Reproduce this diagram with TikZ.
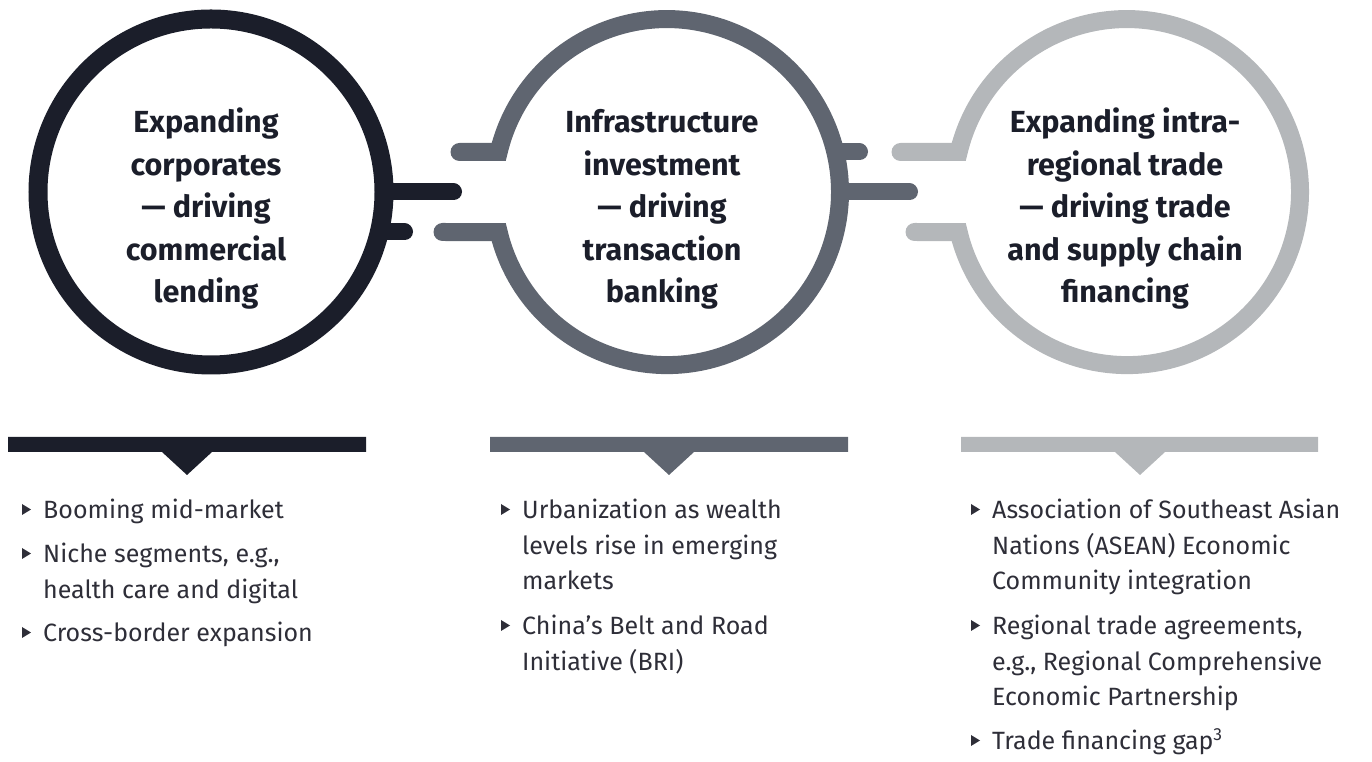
\documentclass[tikz,border=0pt]{standalone}
\usepackage{fontspec}
\setmainfont{Fira Sans}
\definecolor{cdark}{HTML}{1B1E2A}
\definecolor{cmid}{HTML}{5F6570}
\definecolor{clight}{HTML}{B4B7BA}
\definecolor{cink}{HTML}{1B1E2A}
\definecolor{cbody}{HTML}{2E2E38}
\tikzset{
  ringline/.style={line width=18pt, line join=miter, line cap=round},
  linkline/.style={line width=17pt, line cap=round},
  headtext/.style={font=\fontsize{30.5}{42.5}\selectfont\bfseries, text=cink, inner sep=0pt, anchor=base},
  itemtext/.style={font=\fontsize{25}{35.3}\selectfont, text=cbody, inner sep=0pt, anchor=base west},
  marker/.style={fill=cbody, draw=none}
}
\newcommand{\headbox}[1]{\parbox[t]{340pt}{\centering #1}}
\newcommand{\itembox}[1]{\parbox[t]{380pt}{\raggedright #1}}
\begin{document}
\begin{tikzpicture}[x=1pt,y=1pt]
\useasboundingbox (0,0) rectangle (1372,762);
\coordinate (c1) at (211,570);
\coordinate (c2) at (667,570);
\coordinate (c3) at (1127,570);
% circle 1 (closed)
\draw[cdark, line width=19pt] (c1) circle[radius=173];
\draw[linkline, cdark] (385,570) -- (453.5,570);
\draw[linkline, cdark] (381,530) -- (404.5,530);
% circle 2 (open on the left)
\draw[ringline, cmid] (459.5,610) -- (498.7,610) arc[start angle=166.6, end angle=-166.6, radius=173] -- (442.5,530);
\draw[linkline, cmid] (837,610) -- (859.5,610);
\draw[linkline, cmid] (841,570) -- (909.5,570);
% circle 3 (open on the left)
\draw[ringline, clight] (900.5,610) -- (958.7,610) arc[start angle=166.6, end angle=-166.6, radius=173] -- (914.5,530);
% circle texts
\node[headtext] (t1) at (206,629) {\headbox{Expanding\\corporates\\— driving\\commercial\\lending}};
\node[headtext] (t2) at (662,629) {\headbox{Infrastructure\\investment\\— driving\\transaction\\banking}};
\node[headtext] (t3) at (1125,629) {\headbox{Expanding intra-\\regional trade\\— driving trade\\and supply chain\\financing}};
% bars with pointers
\fill[cdark] (8,325) -- (366,325) -- (366,310) -- (212,310) -- (187,287) -- (162,310) -- (8,310) -- cycle;
\fill[cmid] (490,325) -- (848,325) -- (848,310) -- (694,310) -- (669,287) -- (644,310) -- (490,310) -- cycle;
\fill[clight] (961,325) -- (1318,325) -- (1318,310) -- (1165,310) -- (1140,287) -- (1115,310) -- (961,310) -- cycle;
% column 1
\node[itemtext] (b11) at (43,243) {\itembox{Booming mid-market}};
\node[itemtext] (b12) at (43,199) {\itembox{Niche segments, e.g.,\\health care and digital}};
\node[itemtext] (b13) at (43,120) {\itembox{Cross-border expansion}};
% column 2
\node[itemtext] (b21) at (522,243) {\itembox{Urbanization as wealth\\levels rise in emerging\\markets}};
\node[itemtext] (b22) at (522,127) {\itembox{China’s Belt and Road\\Initiative (BRI)}};
% column 3
\node[itemtext] (b31) at (992,243) {\itembox{Association of Southeast Asian\\Nations (ASEAN) Economic\\Community integration}};
\node[itemtext] (b32) at (992,127) {\itembox{Regional trade agreements,\\e.g., Regional Comprehensive\\Economic Partnership}};
\node[itemtext] (b33) at (992,12) {\itembox{Trade financing gap\textsuperscript{3}}};
% bullet markers
\foreach \b in {b11,b12,b13,b21,b22,b31,b32,b33}{
  \fill[marker, shift={(\b.base west)}] (-21,4) -- (-21,15) -- (-12,9.5) -- cycle;
}
\end{tikzpicture}
\end{document}
